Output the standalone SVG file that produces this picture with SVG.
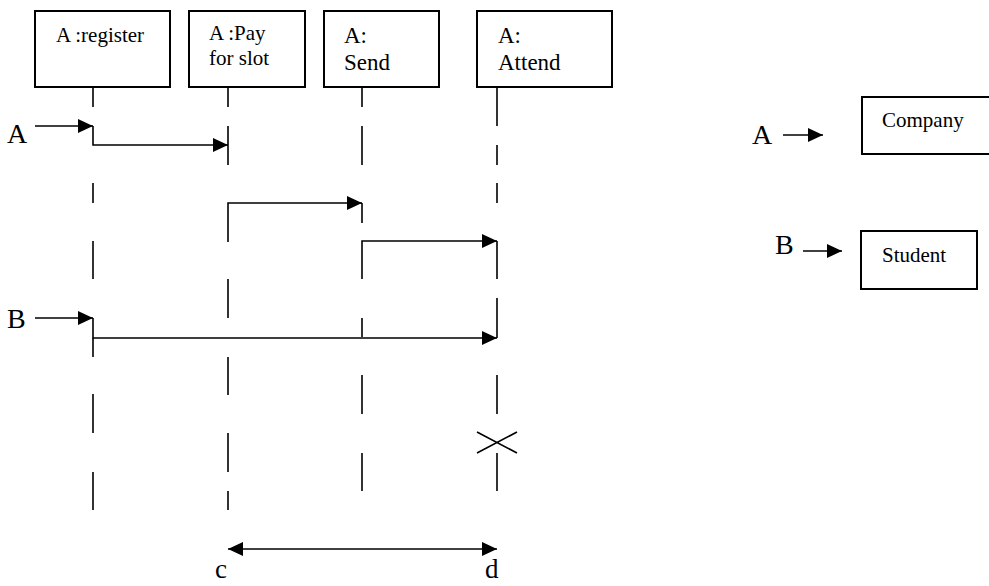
<svg xmlns="http://www.w3.org/2000/svg" width="989" height="586" viewBox="0 0 989 586">
  <style>
    .box { fill: #fff; stroke: #000; stroke-width: 2; }
    .life { stroke: #000; stroke-width: 1.6; fill: none; }
    .msg { stroke: #000; stroke-width: 1.6; fill: none; marker-end: url(#head); }
    text { font-family: "Liberation Serif", "DejaVu Serif", serif; fill: #000; }
  </style>
  <defs>
    <marker id="head" viewBox="0 0 15 14" refX="15" refY="7" markerWidth="15" markerHeight="14" markerUnits="userSpaceOnUse" orient="auto-start-reverse">
      <path d="M0,0 L15,7 L0,14 z" fill="#000"/>
    </marker>
  </defs>
  <rect width="989" height="586" fill="#fff"/>

  <!-- lifeline heads -->
  <g id="register">
    <rect class="box" x="35" y="11" width="135" height="76"/>
    <text font-family="Liberation Serif, serif" font-size="21" x="56" y="42">A :register</text>
  </g>
  <g id="pay">
    <rect class="box" x="189" y="11" width="116" height="76"/>
    <text font-family="Liberation Serif, serif" font-size="21" x="209" y="40">A :Pay</text>
    <text font-family="Liberation Serif, serif" font-size="21" x="209" y="65">for slot</text>
  </g>
  <g id="send">
    <rect class="box" x="324" y="11" width="115" height="76"/>
    <text font-family="Liberation Serif, serif" font-size="23" x="344" y="43">A:</text>
    <text font-family="Liberation Serif, serif" font-size="23" x="344" y="70">Send</text>
  </g>
  <g id="attend">
    <rect class="box" x="477" y="11" width="135" height="76"/>
    <text font-family="Liberation Serif, serif" font-size="23" x="498" y="43">A:</text>
    <text font-family="Liberation Serif, serif" font-size="23" x="498" y="70">Attend</text>
  </g>

  <!-- legend -->
  <g id="company">
    <rect class="box" x="862" y="97" width="140" height="57"/>
    <text font-family="Liberation Serif, serif" font-size="21" x="882" y="127">Company</text>
  </g>
  <g id="student">
    <rect class="box" x="861" y="231" width="116" height="58"/>
    <text font-family="Liberation Serif, serif" font-size="21" x="882" y="262">Student</text>
  </g>

  <!-- dashed lifelines -->
  <g id="lifelines" class="life">
    <path d="M93,87 V107 M93,183 V203 M93,241 V279 M93,338 V357 M93,394 V433 M93,472 V510"/>
    <path d="M228,87 V107 M228,126 V165 M228,279 V318 M228,357 V395 M228,433 V472 M228,491 V510"/>
    <path d="M362,87 V107 M362,126 V165 M362,203 V223 M362,318 V337 M362,375 V414 M362,453 V491"/>
    <path d="M497,87 V126 M497,145 V165 M497,183 V203 M497,241 V279 M497,298 V318 M497,375 V414 M497,453 V491"/>
    <path d="M477,432 L517,453 M477,453 L517,432"/>
  </g>

  <!-- messages -->
  <g id="connectors">
    <path class="msg" d="M35,126 H93"/>
    <path class="msg" d="M93,126 V145 H228"/>
    <path class="msg" d="M228,242 V203 H362"/>
    <path class="msg" d="M362,279 V241 H497"/>
    <path class="msg" d="M35,318 H93"/>
    <path class="msg" d="M93,318 V338 H497"/>
    <path class="life" d="M497,318 V338"/>
    <path class="msg" d="M228,549 H497" style="marker-start: url(#head)"/>
    <path class="msg" d="M783,135 H823"/>
    <path class="msg" d="M803,251 H842"/>
  </g>

  <!-- object labels -->
  <g id="labels">
    <text font-family="Liberation Serif, serif" font-size="28" x="7" y="143">A</text>
    <text font-family="Liberation Serif, serif" font-size="28" x="7" y="328">B</text>
    <text font-family="Liberation Serif, serif" font-size="28" x="752" y="144">A</text>
    <text font-family="Liberation Serif, serif" font-size="28" x="775" y="254">B</text>
    <text font-family="Liberation Serif, serif" font-size="27" x="215" y="578">c</text>
    <text font-family="Liberation Serif, serif" font-size="27" x="485" y="578">d</text>
  </g>
</svg>
